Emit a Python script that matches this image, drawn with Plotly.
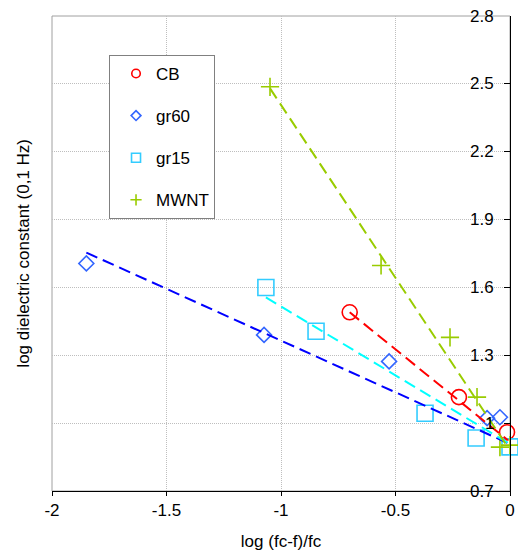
import plotly.graph_objects as go

# ---- data ----
cb_x = [-0.70, -0.223, -0.013]
cb_y = [1.49, 1.115, 0.96]
gr60_x = [-1.85, -1.074, -0.528, -0.10, -0.044]
gr60_y = [1.706, 1.39, 1.273, 1.022, 1.026]
gr15_x = [-1.066, -0.847, -0.371, -0.148, 0.0]
gr15_y = [1.60, 1.406, 1.044, 0.934, 0.895]
mwnt_x = [-1.048, -0.563, -0.262, -0.144, -0.044, 0.0]
mwnt_y = [2.487, 1.697, 1.379, 1.115, 0.894, 0.903]

# trend lines (start / end)
cb_fit_x = [-0.70, -0.01]
cb_fit_y = [1.49, 0.925]
gr60_fit_x = [-1.85, -0.01]
gr60_fit_y = [1.754, 0.912]
gr15_fit_x = [-1.066, -0.01]
gr15_fit_y = [1.556, 0.913]
mwnt_fit_x = [-1.048, -0.01]
mwnt_fit_y = [2.48, 0.894]

x_ticks = [-2, -1.5, -1, -0.5, 0]
x_ticklabels = ["-2", "-1.5", "-1", "-0.5", "0"]
y_ticks = [0.7, 1.0, 1.3, 1.6, 1.9, 2.2, 2.5, 2.8]
y_ticklabels = ["0.7", "1", "1.3", "1.6", "1.9", "2.2", "2.5", "2.8"]

names = ["CB", "gr60", "gr15", "MWNT"]
FONT = "Liberation Sans, Arial, sans-serif"

series = [
    (cb_x, cb_y, cb_fit_x, cb_fit_y, "circle-open", 15, 8.5, "#FF0000", "#FF0000"),
    (gr60_x, gr60_y, gr60_fit_x, gr60_fit_y, "diamond-open", 11.5, 7.5, "#3366FF", "#0000FF"),
    (gr15_x, gr15_y, gr15_fit_x, gr15_fit_y, "square-open", 16, 9, "#33CCFF", "#00FFFF"),
    (mwnt_x, mwnt_y, mwnt_fit_x, mwnt_fit_y, "cross-thin-open", 13, 8, "#99CC00", "#99CC00"),
]

fig = go.Figure()
for name, (xs, ys, fx, fy, sym, size, lsize, mcol, lcol) in zip(names, series):
    fig.add_trace(go.Scatter(
        x=xs, y=ys, mode="markers", showlegend=False, cliponaxis=False,
        marker=dict(symbol=sym, size=size, color=mcol, line=dict(color=mcol, width=1.6)),
    ))
for name, (xs, ys, fx, fy, sym, size, lsize, mcol, lcol) in zip(names, series):
    fig.add_trace(go.Scatter(
        x=fx, y=fy, mode="lines", showlegend=False,
        line=dict(color=lcol, width=2, dash="12px,6px"),
    ))
for name, (xs, ys, fx, fy, sym, size, lsize, mcol, lcol) in zip(names, series):
    fig.add_trace(go.Scatter(
        x=[None], y=[None], mode="markers", name=name, legendgroup=name,
        marker=dict(symbol=sym, size=lsize, color=mcol, line=dict(color=mcol, width=1.6)),
    ))

annotations = [dict(
    text="log dielectric constant (0,1 Hz)", textangle=-90,
    xref="paper", yref="paper", x=-0.063, y=0.5,
    xanchor="center", yanchor="middle", showarrow=False,
    font=dict(family=FONT, size=17, color="black"),
)]
for v, t in zip(y_ticks, y_ticklabels):
    annotations.append(dict(
        text=t, xref="paper", yref="y", x=1, y=v, xanchor="right", yanchor="middle",
        xshift=-14, showarrow=False, font=dict(family=FONT, size=17, color="black"),
    ))

fig.update_layout(
    width=518, height=557,
    margin=dict(l=52, r=8, t=16, b=66),
    paper_bgcolor="white", plot_bgcolor="white",
    font=dict(family=FONT, size=17, color="black"),
    showlegend=True,
    legend=dict(
        x=0.1245, y=0.918, xanchor="left", yanchor="top",
        bordercolor="#808080", borderwidth=1, bgcolor="white",
        tracegroupgap=17, traceorder="grouped", indentation=6,
        font=dict(family=FONT, size=17, color="black"),
    ),
    xaxis=dict(
        range=[-2, 0], tickvals=x_ticks, ticktext=x_ticklabels, automargin=False,
        showgrid=True, gridcolor="#BEBEBE", griddash="1px,1px", gridwidth=1,
        zeroline=False, showline=True, linecolor="black", linewidth=1,
        ticks="outside", ticklen=4, tickcolor="black",
        title=dict(text="log (fc-f)/fc", standoff=15, font=dict(size=17)),
    ),
    yaxis=dict(
        range=[0.7, 2.8], tickvals=y_ticks, showticklabels=False, automargin=False,
        side="right",
        showgrid=True, gridcolor="#BEBEBE", griddash="1px,1px", gridwidth=1,
        zeroline=False, showline=True, linecolor="black", linewidth=1,
        ticks="inside", ticklen=6, tickcolor="black",
    ),
    shapes=[dict(type="rect", xref="paper", yref="paper", x0=0, x1=1, y0=0, y1=1,
                 line=dict(color="#A0A0A0", width=1), layer="below")],
    annotations=annotations,
)

fig.write_html(
    "out.html",
    config={"displayModeBar": False},
    post_script="document.body.style.margin='0';document.body.style.padding='0';",
)
